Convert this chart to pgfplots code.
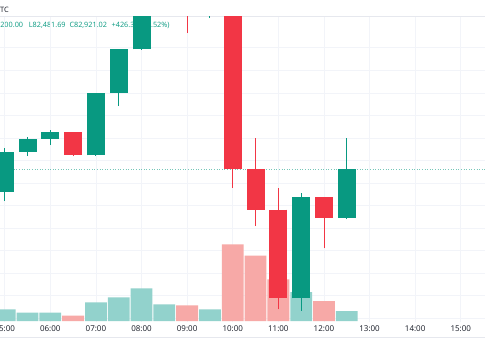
\documentclass[border=0pt]{standalone}
\usepackage{pgfplots}
\pgfplotsset{compat=1.18}
\usepackage{fontspec}
\setmainfont{Open Sans}
\definecolor{cgreen}{HTML}{089981}
\definecolor{cred}{HTML}{F23645}
\definecolor{vgreen}{HTML}{92D2CC}
\definecolor{vred}{HTML}{F7A9A7}
\definecolor{gridc}{HTML}{F2F4F9}
\definecolor{sepc}{HTML}{E6E8EE}
\definecolor{txt}{HTML}{131722}
\pgfplotsset{
  pane/.style={at={(0pt,38pt)}, anchor=south west, scale only axis,
    width=485pt, height=305.5pt, xmin=4.897, xmax=15.531},
}
\begin{document}
\begin{tikzpicture}
\useasboundingbox (0pt,0pt) rectangle (485pt,360pt);
\fill[white] (0pt,0pt) rectangle (485pt,360pt);
% separators
\draw[sepc, line width=0.8pt] (0pt,343.5pt) -- (485pt,343.5pt);
\draw[sepc, line width=0.6pt] (0pt,23pt) -- (485pt,23pt);
% legend text (drawn under the candles)
\node[anchor=base west, inner sep=0pt, text=txt, font=\fontsize{7.4}{8}\selectfont] at (0pt,347.3pt) {TC};
\begin{scope}[every node/.style={inner sep=0pt, text=cgreen, font=\fontsize{7.3}{8}\selectfont}]
\node[anchor=base east] at (23.3pt,332.5pt) {O82,494.70 H83,200.00};
\node[anchor=base west] at (28.7pt,332.5pt) {L82,481.69};
\node[anchor=base west] at (69.3pt,332.5pt) {C82,921.02};
\node[anchor=base west] at (111.5pt,332.5pt) {+426.32 (+0.52\%)};
\end{scope}
% grid, time axis, price line
\begin{axis}[pane, ymin=81568, ymax=84278, scaled y ticks=false,
  ytick={81600,81800,...,84000}, yticklabels={},
  xtick={5,6,...,15},
  xticklabels={05:00,06:00,07:00,08:00,09:00,10:00,11:00,12:00,13:00,14:00,15:00},
  grid=major, major grid style={gridc, line width=0.8pt},
  axis line style={draw=none}, tick style={draw=none},
  x tick label style={anchor=center, yshift=-7pt, text=txt, font=\fontsize{8}{9}\selectfont}]
\addplot[cgreen, opacity=0.55, line width=0.8pt, dash pattern=on 1pt off 1.6pt] coordinates {(4.8,82921.02) (15.6,82921.02)};
\end{axis}
% volume
\begin{axis}[pane, hide axis, ymin=-10, ymax=3045, ybar, bar width=21.8pt]
\addplot[fill=vgreen, draw=none, bar shift=0pt] coordinates {(5,117) (5.5,83) (6,83) (7,187) (7.5,237) (8,327) (8.5,167) (9.5,117) (11.5,290) (12.5,100)};
\addplot[fill=vred, draw=none, bar shift=0pt] coordinates {(6.5,53) (9,157) (10,767) (10.5,653) (11,417) (12,200)};
\end{axis}
% candles
\begin{axis}[pane, hide axis, ymin=81568, ymax=84278, unbounded coords=jump]
% green wicks (low -- high)
\addplot[cgreen, line width=0.9pt] coordinates {
 (5,82644) (5,83114) (5,nan)
 (5.5,83040) (5.5,83209) (5.5,nan)
 (6,83138) (6,83271) (6,nan)
 (7,83044) (7,83600) (7,nan)
 (7.5,83484) (7.5,83990) (7.5,nan)
 (8,83985) (8,84520) (8,nan)
 (8.5,84380) (8.5,84700) (8.5,nan)
 (9.5,84269) (9.5,84580) (9.5,nan)
 (11.5,81666) (11.5,82710) (11.5,nan)
 (12.5,82481.69) (12.5,83200.00)};
% green bodies (open -- close)
\addplot[cgreen, line width=18pt] coordinates {
 (5,82718) (5,83078) (5,nan)
 (5.5,83078) (5.5,83194) (5.5,nan)
 (6,83194) (6,83253) (6,nan)
 (7,83046) (7,83599) (7,nan)
 (7.5,83599) (7.5,83987) (7.5,nan)
 (8,83987) (8,84460) (8,nan)
 (8.5,84460) (8.5,84620) (8.5,nan)
 (9.5,84400) (9.5,84510) (9.5,nan)
 (11.5,81778) (11.5,82679) (11.5,nan)
 (12.5,82494.70) (12.5,82921.02)};
% red wicks
\addplot[cred, line width=0.9pt] coordinates {
 (6.5,83040) (6.5,83256) (6.5,nan)
 (9,84131) (9,84680) (9,nan)
 (10,82759) (10,84560) (10,nan)
 (10.5,82419) (10.5,83203) (10.5,nan)
 (11,81681) (11,82759) (11,nan)
 (12,82222) (12,82681)};
% red bodies
\addplot[cred, line width=18pt] coordinates {
 (6.5,83253) (6.5,83046) (6.5,nan)
 (9,84620) (9,84400) (9,nan)
 (10,84510) (10,82922) (10,nan)
 (10.5,82922) (10.5,82564) (10.5,nan)
 (11,82564) (11,81778) (11,nan)
 (12,82679) (12,82493)};
\end{axis}
\end{tikzpicture}
\end{document}
